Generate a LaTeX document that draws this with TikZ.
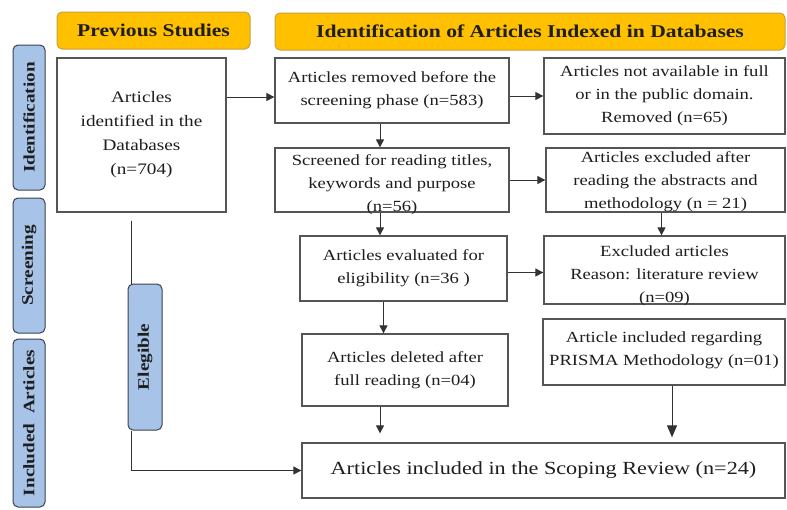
\documentclass[tikz,border=0pt]{standalone}
\usepackage{fontspec}
\setmainfont{Liberation Serif}[FakeStretch=1.2]
\usetikzlibrary{arrows.meta}
\definecolor{gold}{HTML}{FFC000}
\definecolor{goldline}{HTML}{C8A040}
\definecolor{barfill}{HTML}{A7C4E8}
\definecolor{barline}{HTML}{3A4250}
\definecolor{boxline}{HTML}{555555}
\definecolor{conn}{HTML}{333333}
\definecolor{txt}{HTML}{1E1E1E}
\tikzset{
  header/.style={draw=goldline, fill=gold, line width=1pt, rounded corners=5pt, inner sep=0pt,
    font=\bfseries\fontsize{18}{22}\selectfont, text=txt},
  sidebar/.style={draw=barline, fill=barfill, line width=1pt, rounded corners=5pt, inner sep=0pt,
    rotate=90, font=\bfseries\fontsize{16}{20}\selectfont, text=txt},
  box/.style={draw=boxline, line width=1.3pt, fill=white, inner sep=0pt},
  lbl/.style={align=center, inner sep=0pt, text=txt, font=\fontsize{15.5}{23}\selectfont},
  conn/.style={draw=conn, line width=1pt, -{Triangle[width=8pt,length=8pt]}},
  bigconn/.style={draw=conn, line width=1pt, -{Triangle[width=10pt,length=12pt]}},
  plain/.style={draw=conn, line width=1pt}
}
\begin{document}
\begin{tikzpicture}[x=1pt,y=-1pt]
\useasboundingbox[fill=white] (0,0) rectangle (787,509);

% headers
\node[header, minimum width=193, minimum height=37] (hprev) at (153.5,30.5) {Previous Studies};
\node[header, minimum width=510, minimum height=37] (hid) at (530,31.5) {Identification of Articles Indexed in Databases};

% side bars
\node[sidebar, minimum width=145, minimum height=32] (bid) at (29,117.5) {Identification};
\node[sidebar, minimum width=135, minimum height=32] (bscr) at (29,265.5) {Screening};
\node[sidebar, minimum width=168, minimum height=32] (binc) at (29,423) {Included\ \ Articles};

% boxes
\node[box, minimum width=169, minimum height=154,
  label={[lbl, font=\fontsize{16}{24}\selectfont]center:{Articles\\identified in the\\Databases\\(n=704)}}] (ident) at (141.5,135) {};
\node[box, minimum width=234, minimum height=65,
  label={[lbl]center:{Articles removed before the\\screening phase (n=583)}}] (removed) at (392,90.5) {};
\node[box, minimum width=241, minimum height=76,
  label={[lbl]center:{Articles not available in full\\or in the public domain.\\Removed (n=65)}}] (notavail) at (664.5,96) {};
\node[box, minimum width=234, minimum height=64,
  label={[lbl, yshift=-5]center:{Screened for reading titles,\\keywords and purpose\\(n=56)}}] (screened) at (392,180) {};
\node[box, minimum width=239, minimum height=64,
  label={[lbl, yshift=-2]center:{Articles excluded after\\reading the abstracts and\\methodology (n = 21)}}] (exclread) at (665.5,180) {};
\node[box, minimum width=207, minimum height=65,
  label={[lbl]center:{Articles evaluated for\\eligibility (n=36 )}}] (evaluated) at (403.5,268.5) {};
\node[box, minimum width=241, minimum height=68,
  label={[lbl, yshift=-6]center:{Excluded articles\\Reason: literature review\\(n=09)}}] (exclart) at (664.5,270) {};
\node[box, minimum width=206, minimum height=72,
  label={[lbl]center:{Articles deleted after\\full reading (n=04)}}] (deleted) at (405,370) {};
\node[box, minimum width=242, minimum height=66,
  label={[lbl, yshift=2]center:{Article included regarding\\PRISMA Methodology (n=01)}}] (prisma) at (664,352) {};
\node[box, minimum width=483, minimum height=55,
  label={[lbl, font=\fontsize{18.5}{22}\selectfont]center:{Articles included in the Scoping Review (n=24)}}] (final) at (543.5,470.5) {};

% elegible bar
\node[sidebar, minimum width=146, minimum height=34] (belig) at (145,357) {Elegible};

% connectors
\draw[conn] ([yshift=-6.5pt]removed.west -| ident.east) -- ([yshift=-6.5pt]removed.west);
\draw[conn] (removed.east |- notavail.west) -- (notavail.west);
\draw[conn] ([xshift=-12pt]removed.south) -- ([xshift=-12pt]screened.north);
\draw[conn] (screened.east) -- (exclread.west);
\draw[conn] ([xshift=-12pt]screened.south) -- ([xshift=-12pt]screened.south |- evaluated.north);
\draw[conn] ([yshift=-4pt]evaluated.east) -- ([yshift=-4pt]evaluated.east -| exclart.west);
\draw[conn] ([xshift=-4pt]exclread.south) -- ([xshift=-4pt]exclread.south |- exclart.north);
\draw[conn] ([xshift=-20pt]evaluated.south) -- ([xshift=-20pt]evaluated.south |- deleted.north);
\draw[conn, shorten >=9pt] ([xshift=-25pt]deleted.south) -- ([xshift=-25pt]deleted.south |- final.north);
\draw[bigconn, shorten >=5pt] ([xshift=8pt]prisma.south) -- ([xshift=8pt]prisma.south |- final.north);
\draw[plain, shorten <=8pt] ([xshift=-10.5pt]ident.south) -- ([xshift=-10.5pt]ident.south |- belig.east);
\draw[conn] ([xshift=-14pt]belig.center |- belig.west) -- ([xshift=-14pt,yshift=-40pt]belig.center |- belig.west) -- ([yshift=-40pt]belig.west -| final.west);
\end{tikzpicture}
\end{document}
